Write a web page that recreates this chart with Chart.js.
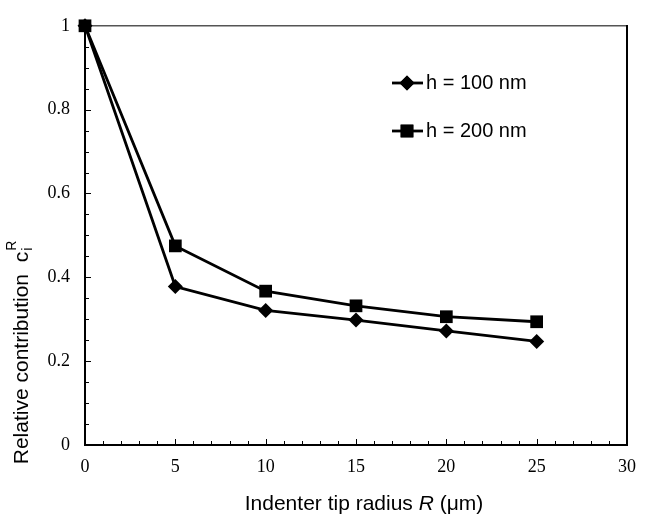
<!DOCTYPE html>
<html>
<head>
<meta charset="utf-8">
<script src="https://cdn.jsdelivr.net/npm/chart.js@4.4.0/dist/chart.umd.min.js"></script>
<style>
  html, body { margin: 0; padding: 0; background: #fff; }
  #wrap { width: 647px; height: 523px; }
</style>
</head>
<body>
<div id="wrap"><canvas id="chart" width="647" height="523"></canvas></div>
<script>
// valores
var radios = [0, 5, 10, 15, 20, 25];
var h100 = [1, 0.378, 0.321, 0.298, 0.272, 0.247];
var h200 = [1, 0.475, 0.367, 0.332, 0.306, 0.294];
var etiquetas = ["h = 100 nm", "h = 200 nm"];
var tituloX = ["Indenter tip radius ", "R", " (\u03bcm)"];
var tituloY = "Relative contribution  c";

function puntos(ys) {
  return radios.map(function (r, i) {
    return { x: r, y: ys[i] };
  });
}

function linea(ctx, x1, y1, x2, y2) {
  ctx.beginPath();
  ctx.moveTo(x1, y1);
  ctx.lineTo(x2, y2);
  ctx.stroke();
}

// marcas menores hacia adentro + marco
var marco = {
  id: "marco",
  beforeDatasetsDraw: function (chart) {
    var ctx = chart.ctx, a = chart.chartArea;
    var x = chart.scales.x, y = chart.scales.y;
    ctx.save();
    ctx.strokeStyle = "#000";
    ctx.lineWidth = 1;
    for (var v = 1; v < 30; v++) {
      var px = Math.round(x.getPixelForValue(v)) + 0.5;
      linea(ctx, px, a.bottom, px, a.bottom - (v % 5 === 0 ? 6 : 4));
    }
    for (var k = 1; k < 20; k++) {
      var py = Math.round(y.getPixelForValue(k * 0.05)) + 0.5;
      linea(ctx, a.left, py, a.left + (k % 4 === 0 ? 6 : 4), py);
    }
    ctx.strokeStyle = "#555";
    ctx.lineWidth = 1.5;
    linea(ctx, a.left, a.top, a.right, a.top);
    ctx.strokeStyle = "#000";
    ctx.lineWidth = 2;
    linea(ctx, a.right, a.top - 0.75, a.right, a.bottom);
    ctx.restore();
  },
  afterDraw: function (chart) {
    var ctx = chart.ctx;
    ctx.save();
    ctx.fillStyle = "#000";
    ctx.textBaseline = "middle";

    // titulo eje x
    var f = "21px 'Liberation Sans', Arial, sans-serif";
    var fi = "italic 21px 'Liberation Sans', Arial, sans-serif";
    ctx.font = f;
    var w0 = ctx.measureText(tituloX[0]).width;
    var w2 = ctx.measureText(tituloX[2]).width;
    ctx.font = fi;
    var w1 = ctx.measureText(tituloX[1]).width;
    var sx = 364 - (w0 + w1 + w2) / 2, sy = 504;
    ctx.textAlign = "left";
    ctx.font = f;
    ctx.fillText(tituloX[0], sx, sy);
    ctx.font = fi;
    ctx.fillText(tituloX[1], sx + w0, sy);
    ctx.font = f;
    ctx.fillText(tituloX[2], sx + w0 + w1, sy);

    // titulo eje y con sub/superindice
    ctx.save();
    ctx.translate(22, 352);
    ctx.rotate(-Math.PI / 2);
    ctx.font = f;
    var wm = ctx.measureText(tituloY).width;
    var x0 = -(wm + 12) / 2;
    ctx.fillText(tituloY, x0, 0);
    ctx.font = "14px 'Liberation Sans', Arial, sans-serif";
    ctx.fillText("i", x0 + wm + 1, 6);
    ctx.fillText("R", x0 + wm + 1, -10);
    ctx.restore();

    // leyenda
    var filas = [83, 131];
    chart.data.datasets.forEach(function (ds, i) {
      var yy = filas[i];
      ctx.strokeStyle = "#000";
      ctx.lineWidth = 2.8;
      linea(ctx, 392, yy, 423, yy);
      Chart.helpers.drawPoint(ctx, {
        pointStyle: ds.pointStyle,
        radius: ds.pointRadius,
        borderWidth: 0
      }, 407, yy);
      ctx.fill();
      ctx.font = "20px 'Liberation Sans', Arial, sans-serif";
      ctx.fillText(ds.label, 426, yy);
    });
    ctx.restore();
  }
};

new Chart(document.getElementById("chart"), {
  type: "line",
  data: {
    datasets: [
      {
        label: etiquetas[0],
        data: puntos(h100),
        borderColor: "#000",
        backgroundColor: "#000",
        borderWidth: 2.8,
        pointStyle: "rectRot",
        pointRadius: 7.5,
        pointBorderWidth: 0,
        clip: false
      },
      {
        label: etiquetas[1],
        data: puntos(h200),
        borderColor: "#000",
        backgroundColor: "#000",
        borderWidth: 2.8,
        pointStyle: "rect",
        pointRadius: 9,
        pointBorderWidth: 0,
        clip: false
      }
    ]
  },
  options: {
    responsive: false,
    animation: false,
    layout: { padding: { left: 0, right: 11, top: 17, bottom: 0 } },
    plugins: {
      legend: { display: false },
      tooltip: { enabled: false }
    },
    scales: {
      x: {
        type: "linear",
        min: 0,
        max: 30,
        grid: { display: false, drawTicks: false },
        border: { display: true, color: "#000", width: 2 },
        ticks: {
          stepSize: 5,
          padding: 11,
          color: "#000",
          maxRotation: 0,
          font: { family: "'Liberation Serif', 'Times New Roman', serif", size: 18 }
        },
        afterFit: function (s) { s.height = 78; }
      },
      y: {
        min: 0,
        max: 1,
        grid: { display: false, drawTicks: false },
        border: { display: true, color: "#000", width: 2 },
        ticks: {
          stepSize: 0.2,
          padding: 15,
          color: "#000",
          font: { family: "'Liberation Serif', 'Times New Roman', serif", size: 18 },
          callback: function (v) { return +v.toFixed(1); }
        },
        afterFit: function (s) { s.width = 85; }
      }
    }
  },
  plugins: [marco]
});
</script>
</body>
</html>
